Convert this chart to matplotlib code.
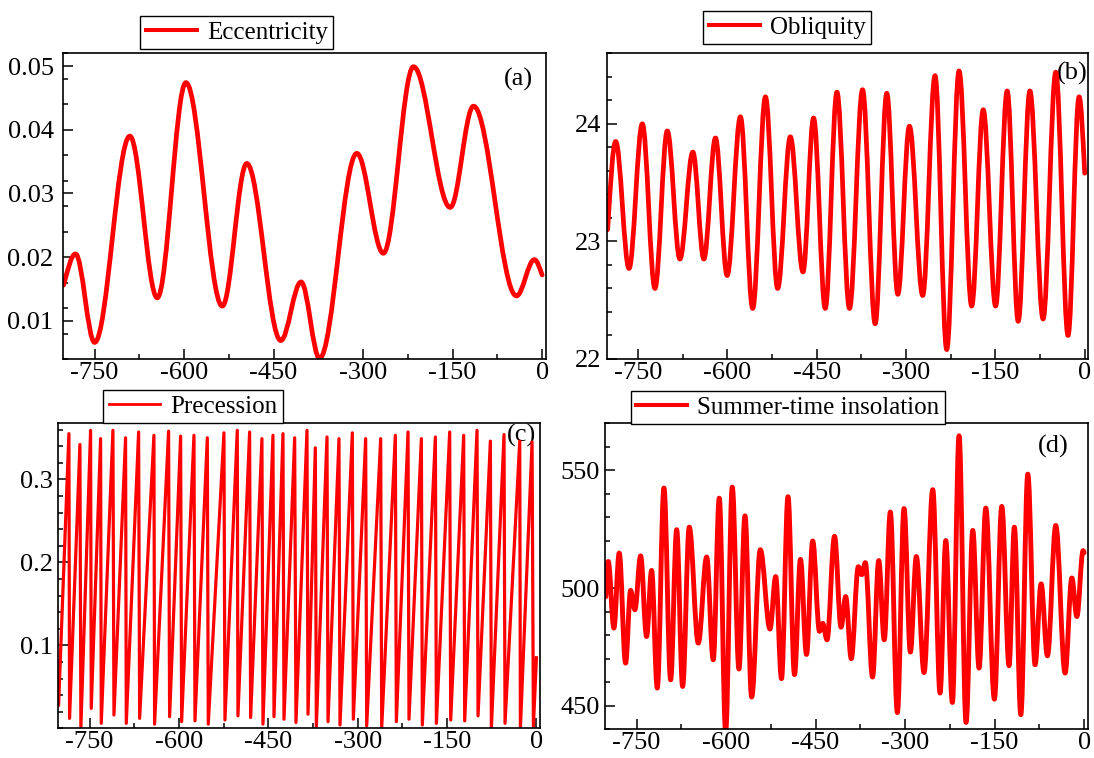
import matplotlib
matplotlib.use('Agg')
import matplotlib.pyplot as plt
from matplotlib.path import Path
from matplotlib.patches import PathPatch
from matplotlib.lines import Line2D
from matplotlib.ticker import MultipleLocator

plt.rcParams['font.family'] = ['Liberation Serif', 'DejaVu Serif']
plt.rcParams['axes.unicode_minus'] = False

# Time axis (kyr), shared by all panels
time_ticks = [-750, -600, -450, -300, -150, 0]
time_labels = ['-750', '-600', '-450', '-300', '-150', '0']

# Eccentricity: turning points of the curve
ecc_t = [-802, -782, -750, -691, -645, -597, -536, -495, -438, -404, -373,
         -310.6, -266, -215.6, -154, -115, -43, -13, 0]
ecc_v = [0.0156, 0.0205, 0.0066, 0.0390, 0.0136, 0.0474, 0.0123, 0.0347,
         0.0069, 0.0161, 0.0041, 0.0363, 0.0206, 0.0499, 0.0278, 0.0437,
         0.0139, 0.0196, 0.0172]

# Obliquity (degrees): turning points
obl_t = [-801, -787.4, -765, -742.7, -721.5, -700.8, -679.6, -657.9, -639.4,
         -619.9, -600.3, -578, -557.4, -536, -515.5, -494.2, -473, -455.2,
         -435.6, -416, -394.9, -373, -351.8, -332.3, -313.8, -294.3, -272,
         -251.3, -231.7, -211, -189.8, -170.4, -149.6, -130.2, -111.7, -92.1,
         -69.9, -48.6, -28, -9.5, 0]
obl_v = [23.10, 23.85, 22.77, 24.00, 22.60, 23.94, 22.85, 23.76, 22.85, 23.88,
         22.71, 24.06, 22.43, 24.23, 22.60, 23.89, 22.74, 24.05, 22.43, 24.27,
         22.43, 24.29, 22.30, 24.26, 22.55, 23.98, 22.54, 24.41, 22.08, 24.45,
         22.45, 24.12, 22.45, 24.28, 22.32, 24.28, 22.34, 24.44, 22.20, 24.23,
         23.58]

# Precession index: sawtooth, top of each ramp followed by the reset
prec_t = [-802,
          -784.7, -783.6, -766.2, -764.6, -748.3, -747.2, -731.5, -730.4,
          -710.8, -709.1, -689.6, -688.4, -667.7, -666.0, -642.0, -640.9,
          -617.4, -615.7, -597.2, -595.5, -574.8, -573.1, -552.4, -550.8,
          -524.5, -522.8, -502.1, -501.0, -481.4, -479.7, -460.7, -459.0,
          -442.2, -440.5, -425.4, -423.7, -405.8, -403.6, -385.1, -383.4,
          -371.1, -369.4, -351.5, -349.8, -331.4, -329.7, -309.0, -307.3,
          -286.6, -284.9, -261.4, -259.7, -236.8, -235.1, -215.5, -213.9,
          -193.1, -191.5, -169.6, -167.9, -145.6, -143.9, -122.1, -120.4,
          -99.7, -98.0, -77.3, -75.6, -54.4, -52.7, -28.0, -26.9, -7.3, -5.1,
          0.0]
prec_v = [0.028,
          0.355, 0.012, 0.342, 0.001, 0.359, 0.024, 0.349, 0.006,
          0.359, 0.016, 0.350, 0.006, 0.357, 0.012, 0.353, 0.005,
          0.358, 0.014, 0.352, 0.008, 0.353, 0.009, 0.350, 0.005,
          0.356, 0.010, 0.359, 0.015, 0.357, 0.013, 0.349, 0.005,
          0.353, 0.014, 0.355, 0.011, 0.350, 0.007, 0.359, 0.017,
          0.338, 0.002, 0.351, 0.008, 0.349, 0.004, 0.356, 0.011,
          0.349, 0.003, 0.349, 0.000, 0.353, 0.008, 0.357, 0.011,
          0.349, 0.004, 0.351, 0.006, 0.357, 0.010, 0.353, 0.009,
          0.359, 0.015, 0.346, 0.000, 0.354, 0.006, 0.346, 0.000, 0.345, 0.002,
          0.085]

# Summer-time insolation (W/m^2): turning points
ins_t = [-801.5, -797.6, -788.1, -779.2, -768.5, -760.1, -752.9, -743.3, -733.3, -724.9,
         -715.4, -704.2, -693.0, -682.9, -672.9, -661.8, -646.7, -632.6, -621.6, -611.5,
         -600.8, -589.7, -578.5, -568.4, -557.2, -542.7, -526.5, -516.9, -507.2, -496.3,
         -485.4, -475.4, -465.3, -454.9, -443.5, -438.1, -430.9, -418.3, -407.4, -399.6,
         -390.3, -378.4, -372.7, -366.7, -354.6, -344.2, -335.0, -324.8, -313.0, -301.8,
         -291.2, -281.2, -268.3, -253.7, -241.4, -231.9, -220.8, -209.6, -197.9, -186.6,
         -176.1, -164.8, -150.4, -138.0, -125.8, -116.9, -106.1, -94.4, -82.2, -72.1,
         -61.5, -47.5, -31.9, -20.6, -12.2, -1.7, 0.0]
ins_v = [496.4, 511.3, 483.0, 514.9, 468.1, 499.0, 490.8, 513.7, 479.4, 507.5,
         457.5, 542.5, 461.0, 524.8, 458.2, 525.9, 476.6, 513.2, 469.5, 538.2,
         439.0, 542.9, 465.6, 530.7, 453.7, 516.3, 482.6, 504.9, 461.5, 538.8,
         463.2, 512.2, 471.8, 520.0, 481.6, 485.0, 478.0, 522.0, 483.4, 496.4,
         470.0, 509.1, 505.7, 510.8, 462.2, 511.7, 478.0, 532.3, 447.1, 533.8,
         472.8, 513.4, 464.1, 541.8, 455.4, 520.2, 451.4, 564.7, 442.9, 524.5,
         466.0, 534.0, 452.8, 534.7, 467.0, 525.9, 446.2, 548.4, 467.4, 501.8,
         471.2, 526.6, 463.9, 504.3, 487.9, 515.9, 515.0]

RED = '#ff0000'
FS = 19
LEG_FS = 18
W, H = 1094, 758


def smooth_path(xs, ys, k=0.36):
    """Cubic Bezier path through turning points (flat tangents at extrema)"""
    verts = [(xs[0], ys[0])]
    codes = [Path.MOVETO]
    n = len(xs) - 1
    for i in range(n):
        x0, y0, x1, y1 = xs[i], ys[i], xs[i + 1], ys[i + 1]
        dx = x1 - x0
        c1y = y0 + 0.5 * (y1 - y0) if i == 0 else y0
        c2y = y1 - 0.5 * (y1 - y0) if i == n - 1 else y1
        verts += [(x0 + k * dx, c1y), (x1 - k * dx, c2y), (x1, y1)]
        codes += [Path.CURVE4] * 3
    return Path(verts, codes)


def style_axes(ax, ylim, yticks, ylabels, yminor, ypad=4):
    ax.set_xlim(-802.5, 6)
    ax.set_ylim(*ylim)
    ax.set_xticks(time_ticks)
    ax.set_xticklabels(time_labels)
    ax.xaxis.set_minor_locator(MultipleLocator(75))
    ax.set_yticks(yticks)
    ax.set_yticklabels(ylabels)
    ax.yaxis.set_minor_locator(MultipleLocator(yminor))
    ax.tick_params(which='both', direction='in', top=False, right=False,
                   labelsize=FS, width=1.1, color='black')
    ax.tick_params(which='major', length=7)
    ax.tick_params(which='minor', length=3.5)
    ax.tick_params(axis='x', pad=2)
    ax.tick_params(axis='y', pad=ypad)
    for sp in ax.spines.values():
        sp.set_linewidth(1.2)
        sp.set_color('black')


def add_legend(ax, fig, label, box_left, box_bottom, lw):
    handle = Line2D([], [], color=RED, lw=lw)
    leg = ax.legend([handle], [label], loc='lower left',
                    bbox_to_anchor=(box_left / W, 1 - box_bottom / H),
                    bbox_transform=fig.transFigure, borderaxespad=0,
                    borderpad=0.22, handlelength=2.05, handletextpad=0.4,
                    fontsize=LEG_FS, fancybox=False, framealpha=1, frameon=True)
    leg.get_frame().set_edgecolor('black')
    leg.get_frame().set_linewidth(1.0)


def add_curve(ax, xs, ys, lw):
    patch = PathPatch(smooth_path(xs, ys), facecolor='none', edgecolor=RED,
                      lw=lw, capstyle='round', joinstyle='round', zorder=2)
    ax.add_patch(patch)


fig = plt.figure(figsize=(W / 100, H / 100), dpi=100)
fig.patch.set_facecolor('white')

ax_a = fig.add_axes([63.3 / W, 1 - 359 / H, 482.4 / W, 305.7 / H])
ax_b = fig.add_axes([606.7 / W, 1 - 359 / H, 481.6 / W, 305.7 / H])
ax_c = fig.add_axes([58.3 / W, 1 - 728.3 / H, 481.7 / W, 305.0 / H])
ax_d = fig.add_axes([605.3 / W, 1 - 729.3 / H, 482.4 / W, 306.0 / H])

# (a) Eccentricity
add_curve(ax_a, ecc_t, ecc_v, 3.4)
style_axes(ax_a, (0.004, 0.052), [0.01, 0.02, 0.03, 0.04, 0.05],
           ['0.01', '0.02', '0.03', '0.04', '0.05'], 0.004, ypad=7)
add_legend(ax_a, fig, 'Eccentricity', 140, 49.3, 2.9)
ax_a.text(0.974, 0.913, '(a)', transform=ax_a.transAxes, ha='right',
          va='center', fontsize=FS, zorder=1)

# (b) Obliquity
add_curve(ax_b, obl_t, obl_v, 3.4)
style_axes(ax_b, (22, 24.6), [22, 23, 24], ['22', '23', '24'], 0.2)
add_legend(ax_b, fig, 'Obliquity', 703.3, 44.3, 2.9)
ax_b.text(0.998, 0.935, '(b)', transform=ax_b.transAxes, ha='right',
          va='center', fontsize=FS, zorder=1)

# (c) Precession
ax_c.plot(prec_t, prec_v, color=RED, lw=2.3, zorder=2)
style_axes(ax_c, (0.0, 0.3675), [0.1, 0.2, 0.3], ['0.1', '0.2', '0.3'], 0.02)
add_legend(ax_c, fig, 'Precession', 103.3, 423.3, 2.0)
ax_c.text(0.992, 0.959, '(c)', transform=ax_c.transAxes, ha='right',
          va='center', fontsize=FS, zorder=1)

# (d) Summer-time insolation
add_curve(ax_d, ins_t, ins_v, 3.5)
style_axes(ax_d, (440, 570), [450, 500, 550], ['450', '500', '550'], 10)
add_legend(ax_d, fig, 'Summer-time insolation', 630.7, 424.3, 2.9)
ax_d.text(0.960, 0.925, '(d)', transform=ax_d.transAxes, ha='right',
          va='center', fontsize=FS, zorder=1)

fig.savefig('out.png', dpi=100, facecolor='white')
plt.close(fig)
